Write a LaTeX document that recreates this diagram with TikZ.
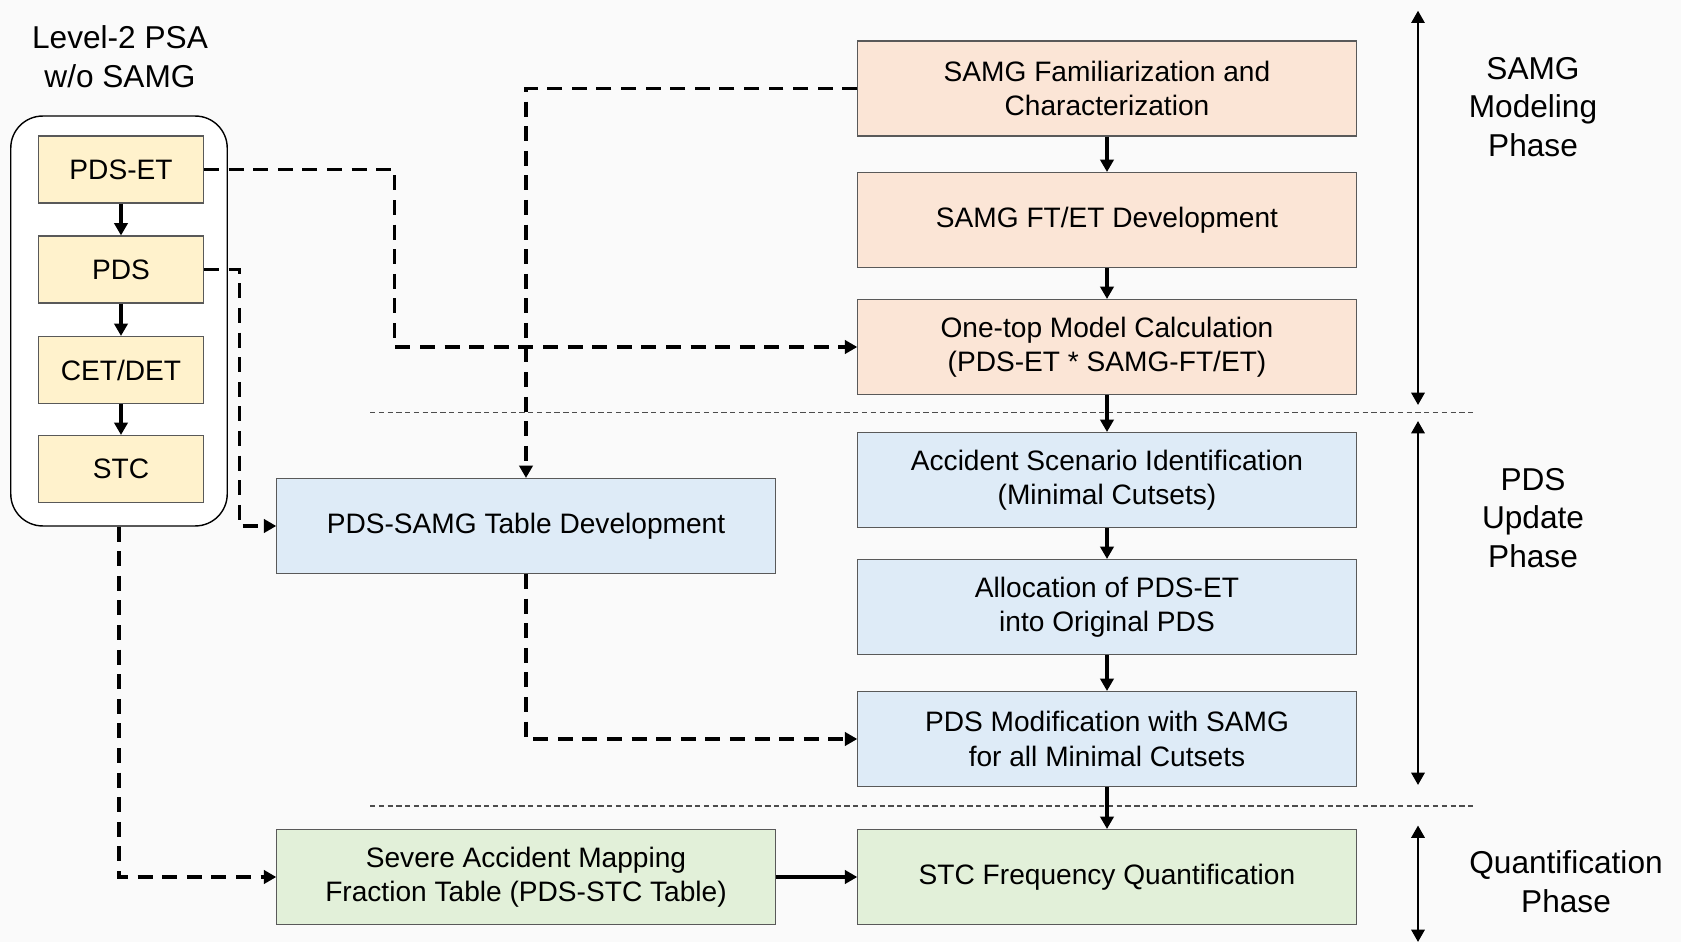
\documentclass[tikz,border=0pt]{standalone}
\usepackage{fontspec}
\setmainfont{Liberation Sans}
\usetikzlibrary{arrows.meta}

\definecolor{samgfill}{HTML}{FBE5D6}
\definecolor{pdsfill}{HTML}{DEEBF7}
\definecolor{quantfill}{HTML}{E2F0D9}
\definecolor{psafill}{HTML}{FFF2CC}

\def\boxfont{\fontsize{16}{19.5}\selectfont}
\def\bigfont{\fontsize{18}{22}\selectfont}

\tikzset{
  stepbox/.style={draw=black!65, line width=0.6pt, inner sep=0pt, align=center, font=\boxfont},
  widebox/.style={stepbox, minimum width=9.97cm, minimum height=1.9cm},
  smallbox/.style={stepbox, fill=psafill, minimum width=3.3cm, minimum height=1.34cm},
  link/.style={line width=1.9pt, -{Triangle[length=7pt,width=7.5pt]}},
  dashlink/.style={link, dash pattern=on 8.5pt off 5.5pt},
  sepline/.style={black!70, line width=0.6pt, dash pattern=on 3pt off 2pt},
  phasearrow/.style={line width=1.4pt, {Triangle[length=7pt,width=7.5pt]}-{Triangle[length=7pt,width=7.5pt]}},
}

\begin{document}
\begin{tikzpicture}[x=0.02cm,y=-0.02cm]
  \fill[black!2] (0,0) rectangle (1681,942);
  \useasboundingbox (0,0) rectangle (1681,942);

  % level-2 PSA column
  \node[align=center, font=\bigfont] (title) at (120,57) {Level-2 PSA\\w/o SAMG};
  \node[draw, fill=white, line width=0.8pt, rounded corners=0.64cm, minimum width=4.33cm, minimum height=8.2cm] (psa) at (119,321) {};
  \node[smallbox] (pdset) at (121,169.5) {PDS-ET};
  \node[smallbox] (pds) at (121,269.5) {PDS};
  \node[smallbox] (cetdet) at (121,370) {CET/DET};
  \node[smallbox] (stc) at (121,469) {STC};

  % main column
  \node[widebox, fill=samgfill] (fam) at (1107,88.5) {SAMG Familiarization and\\Characterization};
  \node[widebox, fill=samgfill] (ftet) at (1107,220) {SAMG FT/ET Development};
  \node[widebox, fill=samgfill] (onetop) at (1107,347) {One-top Model Calculation\\(PDS-ET * SAMG-FT/ET)};
  \node[widebox, fill=pdsfill] (scen) at (1107,480) {Accident Scenario Identification\\(Minimal Cutsets)};
  \node[widebox, fill=pdsfill] (alloc) at (1107,607) {Allocation of PDS-ET\\into Original PDS};
  \node[widebox, fill=pdsfill] (modif) at (1107,739) {PDS Modification with SAMG\\for all Minimal Cutsets};
  \node[widebox, fill=quantfill] (freq) at (1107,877) {STC Frequency Quantification};

  % middle column
  \node[widebox, fill=pdsfill] (table) at (526,526) {PDS-SAMG Table Development};
  \node[widebox, fill=quantfill] (mapping) at (526,877) {Severe Accident Mapping\\Fraction Table (PDS-STC Table)};

  % phase separators
  \draw[sepline] (370,412.7) -- (1475,412.7);
  \draw[sepline] (370,806) -- (1475,806);

  % phases
  \draw[phasearrow] (1418,10.7) -- (1418,405);
  \draw[phasearrow] (1418,421) -- (1418,785);
  \draw[phasearrow] (1418,825.5) -- (1418,942);
  \node[align=center, font=\bigfont] (ph1) at (1533,107) {SAMG\\Modeling\\Phase};
  \node[align=center, font=\bigfont] (ph2) at (1533,518) {PDS\\Update\\Phase};
  \node[align=center, font=\bigfont] (ph3) at (1566,882) {Quantification\\Phase};

  % solid links
  \draw[link] (pdset) -- (pds);
  \draw[link] (pds) -- (cetdet);
  \draw[link] (cetdet) -- (stc);
  \draw[link] (fam) -- (ftet);
  \draw[link] (ftet) -- (onetop);
  \draw[link] (onetop) -- (scen);
  \draw[link] (scen) -- (alloc);
  \draw[link] (alloc) -- (modif);
  \draw[link] (modif) -- (freq);
  \draw[link] (mapping) -- (freq);

  % dashed links
  \draw[dashlink] (fam.west) -| (table.north);
  \draw[dashlink] (pdset.east) -- ++(190.8,0) |- (onetop.west);
  \draw[dashlink] (pds.east) -- ++(35.3,0) |- (table.west);
  \draw[dashlink] (table.south) |- (modif.west);
  \draw[dashlink] (psa.south) |- (mapping.west);
\end{tikzpicture}
\end{document}
